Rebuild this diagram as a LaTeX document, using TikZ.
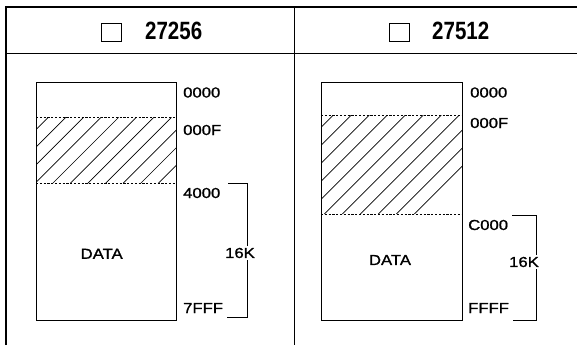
\documentclass[tikz,border=0pt]{standalone}
\usepackage{fontspec}
\setmainfont{Liberation Sans}
\newfontfamily\hdrfont[FakeStretch=0.82]{Liberation Sans Bold}
\newfontfamily\lblfont[FakeStretch=1.15,FakeBold=1.2]{Liberation Sans}
\begin{document}
\begin{tikzpicture}[x=1pt,y=-1pt,
  frame/.style={line width=1.7pt,black},
  thinframe/.style={line width=1pt,black},
  memrect/.style={line width=0.9pt,black},
  dashsep/.style={line width=0.9pt,dash pattern=on 2.2pt off 1.6pt},
  hatchline/.style={line width=0.65pt},
  brack/.style={line width=0.9pt},
  hdr/.style={inner sep=0pt,font=\hdrfont\fontsize{25}{25}\selectfont},
  addr/.style={inner sep=0pt,anchor=base west,font=\lblfont\fontsize{14.5}{14.5}\selectfont},
  ksize/.style={inner sep=1.5pt,fill=white,font=\lblfont\fontsize{14.5}{14.5}\selectfont},
  datalbl/.style={inner sep=0pt,font=\lblfont\fontsize{14.5}{14.5}\selectfont}]
\useasboundingbox (0,0) rectangle (577,345);
\fill[white] (0,0) rectangle (577,345);
% frame
\draw[frame] (6,345) -- (6,7) -- (577,7);
\draw[thinframe] (6,53) -- (577,53);
\draw[thinframe] (294,7) -- (294,345);
% headers
\draw[line width=0.9pt] (101,23.5) rectangle (121.5,41.5);
\node[hdr,anchor=base west] (h1) at (145,40) {27256};
\draw[line width=0.9pt] (389,23.5) rectangle (409.5,41.5);
\node[hdr,anchor=base west] (h2) at (432,40) {27512};
% left memory map
\begin{scope}
\clip (36,117.3) rectangle (176,183.3);
\foreach \i in {-6,...,10} {
  \draw[hatchline] (48.3+\i*17.6-66,183.3) -- ++(66,-66);
}
\end{scope}
\draw[memrect] (36,82) rectangle (176,320);
\draw[dashsep] (36,117.3) -- (176,117.3);
\draw[dashsep] (36,183.3) -- (176,183.3);
\node[datalbl] (d1) at (101.7,253.8) {DATA};
\node[addr] (a1) at (183,97.5) {0000};
\node[addr] (a2) at (183,135) {000F};
\node[addr] (a3) at (183,198) {4000};
\node[addr] (a4) at (183,313) {7FFF};
\coordinate (b1t) at (228,183);
\coordinate (b1b) at (227,317);
\draw[brack] (b1t) -- (247,183) -- (247,317) -- (b1b);
\node[ksize] (k1) at (240,253) {16K};
% right memory map
\begin{scope}
\clip (321,115) rectangle (462,214);
\foreach \i in {-7,...,10} {
  \draw[hatchline] (333.3+\i*18-99,214) -- ++(99,-99);
}
\end{scope}
\draw[memrect] (321,82) rectangle (462,320);
\draw[dashsep] (321,115) -- (462,115);
\draw[dashsep] (321,214) -- (462,214);
\node[datalbl] (d2) at (390,260) {DATA};
\node[addr] (c1) at (470,97.5) {0000};
\node[addr] (c2) at (470,128) {000F};
\node[addr] (c3) at (468,230) {C000};
\node[addr] (c4) at (468,313) {FFFF};
\coordinate (b2t) at (512,215);
\coordinate (b2b) at (513,320);
\draw[brack] (b2t) -- (536,215) -- (536,320) -- (b2b);
\node[ksize] (k2) at (524,262) {16K};
\end{tikzpicture}
\end{document}
